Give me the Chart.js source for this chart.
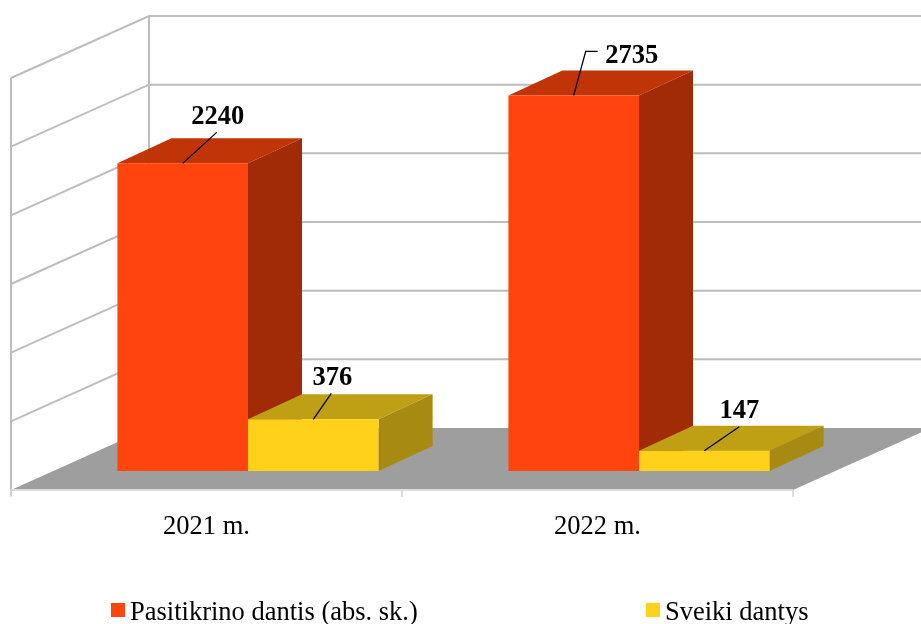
<!DOCTYPE html>
<html>
<head>
<meta charset="utf-8">
<style>
  html, body { margin: 0; padding: 0; background: #fff; overflow: hidden; }
  canvas { display: block; }
</style>
<script src="https://cdn.jsdelivr.net/npm/chart.js@4"></script>
</head>
<body>
<canvas id="teethChart" width="921" height="624"></canvas>
<script>
const categories = ["2021 m.", "2022 m."];
const checkedTeeth = [2240, 2735];
const healthyTeeth = [376, 147];
const seriesNames = ["Pasitikrino dantis (abs. sk.)", "Sveiki dantys"];
const gridValues = [0, 500, 1000, 1500, 2000, 2500, 3000];

const fontName = '"Liberation Serif", "Times New Roman", serif';

// depth of the fake 3d box, measured from the plane the bar fronts stand on
const floorFront = { dx: -41.5, dy: 19 };
const floorBack = { dx: 96.5, dy: -43 };
const barDepth = { dx: 54, dy: -25 };

const faceColors = [
    { front: "#ff450d", top: "#c03408", side: "#a12b07" },
    { front: "#ffd11a", top: "#bfa015", side: "#a68a12" }
];

// leader line bends and text position, relative to the middle of the bar top
const leaders = [
    [[[34, -31]], [[12, -44], [24, -44]]],
    [[[18, -26]], [[35, -24]]]
];
const labelShift = [
    [[35, -46], [58, -39]],
    [[19, -41], [35, -40]]
];

function poly(ctx, pts, color) {
    ctx.fillStyle = color;
    ctx.beginPath();
    ctx.moveTo(pts[0][0], pts[0][1]);
    for (let i = 1; i < pts.length; i++) ctx.lineTo(pts[i][0], pts[i][1]);
    ctx.closePath();
    ctx.fill();
}

function line(ctx, pts, color, width) {
    ctx.strokeStyle = color;
    ctx.lineWidth = width;
    ctx.beginPath();
    ctx.moveTo(pts[0][0], pts[0][1]);
    for (let i = 1; i < pts.length; i++) ctx.lineTo(pts[i][0], pts[i][1]);
    ctx.stroke();
}

const box3d = {
    id: "box3d",
    beforeDatasetsDraw(chart) {
        const ctx = chart.ctx;
        const xs = chart.scales.x;
        const ys = chart.scales.y;
        const left = xs.left, right = xs.right;
        const base = ys.getPixelForValue(0);
        ctx.save();

        // floor
        poly(ctx, [
            [left + floorFront.dx, base + floorFront.dy],
            [right + floorFront.dx, base + floorFront.dy],
            [right + floorBack.dx, base + floorBack.dy],
            [left + floorBack.dx, base + floorBack.dy]
        ], "#9e9e9e");

        // walls
        gridValues.forEach(function (v) {
            const y = ys.getPixelForValue(v);
            if (v > 0) {
                line(ctx, [
                    [left + floorFront.dx, y + floorFront.dy],
                    [left + floorBack.dx, y + floorBack.dy],
                    [right + floorBack.dx, y + floorBack.dy]
                ], "#bdbdbd", 2);
            }
        });
        const topY = ys.getPixelForValue(3000);
        line(ctx, [[left + floorFront.dx, base + floorFront.dy + 6], [left + floorFront.dx, topY + floorFront.dy]], "#bdbdbd", 2);
        line(ctx, [[left + floorBack.dx, base + floorBack.dy], [left + floorBack.dx, topY + floorBack.dy]], "#bdbdbd", 2);

        // axis line and tick marks under the floor
        const frontY = base + floorFront.dy;
        line(ctx, [[left + floorFront.dx, frontY], [right + floorFront.dx, frontY]], "#dcdcdc", 2);
        const step = (right - left) / categories.length;
        for (let i = 0; i <= categories.length; i++) {
            const tx = left + floorFront.dx + step * i;
            line(ctx, [[tx, frontY], [tx, frontY + 7]], "#d4d4d4", 1.5);
        }

        // bar tops and sides
        chart.data.datasets.forEach(function (ds, d) {
            chart.getDatasetMeta(d).data.forEach(function (bar) {
                const l = bar.x - bar.width / 2, r = bar.x + bar.width / 2;
                const t = bar.y, b = bar.base;
                poly(ctx, [[l, t], [r, t], [r + barDepth.dx, t + barDepth.dy], [l + barDepth.dx, t + barDepth.dy]], faceColors[d].top);
                poly(ctx, [[r, t], [r + barDepth.dx, t + barDepth.dy], [r + barDepth.dx, b + barDepth.dy], [r, b]], faceColors[d].side);
            });
        });
        ctx.restore();
    },
    afterDatasetsDraw(chart) {
        const ctx = chart.ctx;
        ctx.save();
        // value labels with leader lines
        chart.data.datasets.forEach(function (ds, d) {
            chart.getDatasetMeta(d).data.forEach(function (bar, i) {
                const pts = [[bar.x, bar.y]];
                leaders[d][i].forEach(function (p) { pts.push([bar.x + p[0], bar.y + p[1]]); });
                line(ctx, pts, "#000", 1.3);
                ctx.fillStyle = "#000";
                ctx.font = "bold 26.5px " + fontName;
                ctx.textAlign = "center";
                ctx.textBaseline = "middle";
                ctx.fillText(String(ds.data[i]), bar.x + labelShift[d][i][0], bar.y + labelShift[d][i][1]);
            });
        });

        // legend, the gap between entries is too wide for the built in one
        const legendX = [111, 646];
        ctx.font = "26.5px " + fontName;
        ctx.textAlign = "left";
        ctx.textBaseline = "middle";
        chart.data.datasets.forEach(function (ds, d) {
            ctx.fillStyle = ds.backgroundColor;
            ctx.fillRect(legendX[d], 603, 14, 14);
            ctx.fillStyle = "#000";
            ctx.fillText(ds.label, legendX[d] + 19, 613.5);
        });
        ctx.restore();
    }
};

new Chart(document.getElementById("teethChart"), {
    type: "bar",
    data: {
        labels: categories,
        datasets: [
            { label: seriesNames[0], data: checkedTeeth, backgroundColor: faceColors[0].front },
            { label: seriesNames[1], data: healthyTeeth, backgroundColor: faceColors[1].front }
        ]
    },
    options: {
        responsive: false,
        animation: false,
        layout: { padding: { left: 52.5, right: 86.5, top: 59, bottom: 53 } },
        plugins: { legend: { display: false }, title: { display: false }, tooltip: { enabled: false } },
        datasets: { bar: { categoryPercentage: 0.668, barPercentage: 1, borderWidth: 0 } },
        scales: {
            x: {
                grid: { display: false },
                border: { display: false },
                afterFit: function (scale) { scale.height = 100; },
                ticks: {
                    color: "#000",
                    font: { family: fontName, size: 26.5 },
                    labelOffset: -41.5,
                    padding: 32,
                    maxRotation: 0
                }
            },
            y: { display: false, min: 0, max: 3000 }
        }
    },
    plugins: [box3d]
});
</script>
</body>
</html>
